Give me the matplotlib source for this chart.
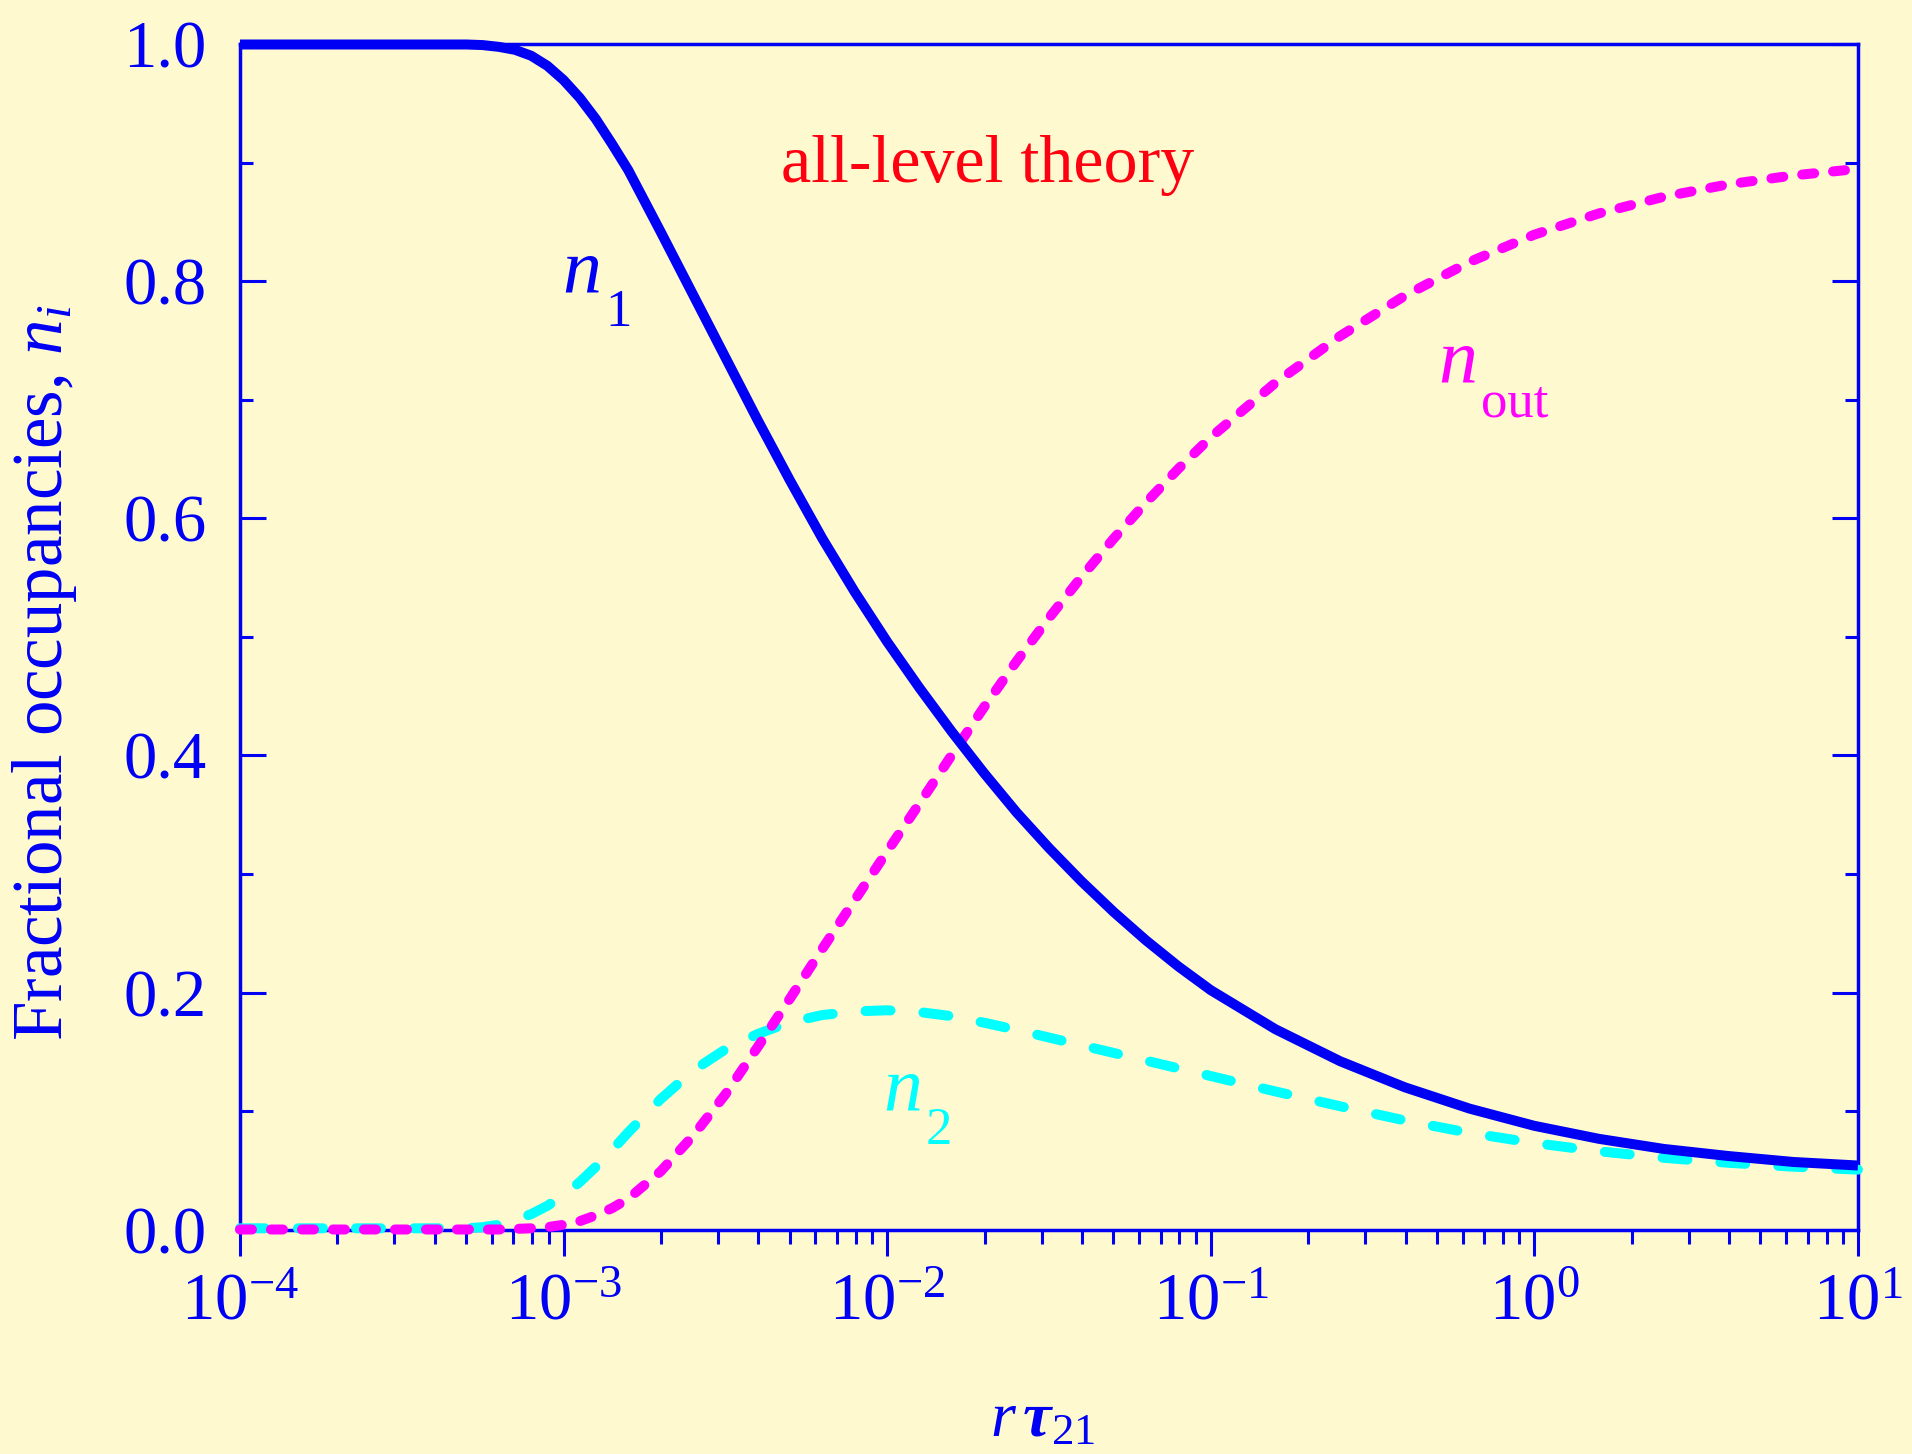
import numpy as np
import matplotlib
matplotlib.use('Agg')
import matplotlib.pyplot as plt
from matplotlib.ticker import LogLocator, MultipleLocator, NullFormatter

plt.rcParams['font.family'] = ['Liberation Serif', 'DejaVu Serif']
plt.rcParams['mathtext.fontset'] = 'custom'
plt.rcParams['mathtext.rm'] = 'Liberation Serif'
plt.rcParams['mathtext.it'] = 'Liberation Serif:italic'
plt.rcParams['mathtext.bf'] = 'Liberation Serif:bold'
plt.rcParams['mathtext.bfit'] = 'Liberation Serif:bold:italic'

# decades of r*tau21 at which the occupancies were read
log_x = [-4.0, -3.7, -3.4, -3.3, -3.25, -3.2, -3.15, -3.1, -3.05, -3.0,
         -2.95, -2.9, -2.85, -2.8, -2.7, -2.6, -2.5, -2.4, -2.3, -2.2,
         -2.1, -2.0, -1.9, -1.8, -1.7, -1.6, -1.5, -1.4, -1.3, -1.2,
         -1.1, -1.0, -0.8, -0.6, -0.4, -0.2, 0.0, 0.2, 0.4, 0.6,
         0.8, 1.0]

n1 = [1.000, 1.000, 1.000, 1.000, 0.9995, 0.998, 0.9955, 0.9905, 0.982, 0.970,
      0.955, 0.937, 0.916, 0.894, 0.842, 0.789, 0.736, 0.683, 0.632, 0.583,
      0.538, 0.496, 0.457, 0.420, 0.385, 0.352, 0.322, 0.294, 0.268, 0.244,
      0.222, 0.202, 0.169, 0.142, 0.120, 0.102, 0.0875, 0.0765, 0.068, 0.062,
      0.057, 0.054]

n2 = [0.001, 0.001, 0.001, 0.001, 0.002, 0.004, 0.008, 0.013, 0.020, 0.029,
      0.040, 0.053, 0.067, 0.082, 0.110, 0.134, 0.152, 0.165, 0.175, 0.181,
      0.184, 0.185, 0.1835, 0.180, 0.1745, 0.1685, 0.162, 0.1555, 0.149, 0.1425,
      0.136, 0.1295, 0.1165, 0.104, 0.092, 0.0815, 0.073, 0.066, 0.0605, 0.0563,
      0.053, 0.0505]

n_out = [0.000, 0.000, 0.000, 0.000, 0.000, 0.000, 0.0005, 0.001, 0.002, 0.004,
         0.007, 0.012, 0.018, 0.026, 0.049, 0.079, 0.114, 0.154, 0.195, 0.237,
         0.278, 0.319, 0.3595, 0.4005, 0.441, 0.4795, 0.516, 0.5505, 0.583, 0.6135,
         0.642, 0.6685, 0.7145, 0.754, 0.788, 0.8165, 0.8395, 0.8575, 0.8715, 0.882,
         0.8895, 0.895]

x_ticks = [1e-4, 1e-3, 1e-2, 1e-1, 1e0, 1e1]
x_tick_labels = [r'$10^{-4}$', r'$10^{-3}$', r'$10^{-2}$',
                 r'$10^{-1}$', r'$10^{0}$', r'$10^{1}$']
y_ticks = [0.0, 0.2, 0.4, 0.6, 0.8, 1.0]
y_tick_labels = ['0.0', '0.2', '0.4', '0.6', '0.8', '1.0']

BG = '#FFF9CF'
BLUE = '#0000F5'
CYAN = '#00FFFF'
MAGENTA = '#FF00FF'
RED = '#FF0010'
LW = 7.2

x = 10 ** np.array(log_x)

fig = plt.figure(figsize=(19.12, 14.54), dpi=100)
fig.patch.set_facecolor(BG)
ax = fig.add_axes([0.1255, 0.1544, 0.8462, 0.815])
ax.set_facecolor(BG)

ax.plot(x, n2, color=CYAN, lw=LW, dashes=(2.5, 3.3), dash_capstyle='round',
        clip_on=False, zorder=3)
ax.plot(x, n_out, color=MAGENTA, lw=LW, dashes=(1.2, 1.9), dash_capstyle='round',
        clip_on=False, zorder=4)
ax.plot(x, n1, color=BLUE, lw=LW, solid_capstyle='butt', clip_on=False, zorder=5)

ax.set_xscale('log')
ax.set_xlim(1e-4, 10)
ax.set_ylim(0, 1)

ax.set_xticks(x_ticks)
ax.set_xticklabels(x_tick_labels)
ax.xaxis.set_minor_locator(LogLocator(base=10, subs=np.arange(2, 10)))
ax.xaxis.set_minor_formatter(NullFormatter())
ax.set_yticks(y_ticks)
ax.set_yticklabels(y_tick_labels)
ax.yaxis.set_minor_locator(MultipleLocator(0.1))

ax.tick_params(axis='x', which='both', direction='out', bottom=True, top=False,
               color=BLUE, labelcolor=BLUE, width=2.2)
ax.tick_params(axis='x', which='major', length=19, pad=12, labelsize=48)
ax.tick_params(axis='x', which='minor', length=10)
ax.tick_params(axis='y', which='both', direction='in', left=True, right=True,
               color=BLUE, labelcolor=BLUE, width=2.2)
ax.tick_params(axis='y', which='major', length=19, pad=24, labelsize=48)
ax.tick_params(axis='y', which='minor', length=9.5)

for spine in ax.spines.values():
    spine.set_color(BLUE)
    spine.set_linewidth(2.5)

ax.set_xlabel(r'$r\,\mathbfit{\tau}_{21}$', color=BLUE, fontsize=46, va='center')
ax.xaxis.set_label_coords(0.496, -0.162)
ax.set_ylabel(r'Fractional occupancies, $n_i$', color=BLUE, fontsize=51,
              va='center')
ax.yaxis.set_label_coords(-0.1205, 0.47)

ax.text(0.4623, 0.884, 'all-level theory', transform=ax.transAxes,
        color=RED, fontsize=49, ha='center', va='baseline')


def curve_label(xd, yd, sub, color):
    # italic n with a separately placed upright subscript
    ax.text(xd, yd, 'n', color=color, fontsize=56, style='italic',
            ha='left', va='baseline')
    ax.annotate(sub, xy=(xd, yd), xytext=(31, -24.5), textcoords='offset points',
                color=color, fontsize=38, ha='left', va='baseline')


curve_label(9.89e-4, 0.791, '1', BLUE)
curve_label(0.504, 0.715, 'out', MAGENTA)
curve_label(9.71e-3, 0.1008, '2', CYAN)

fig.savefig('out.png', dpi=100, facecolor=BG)
